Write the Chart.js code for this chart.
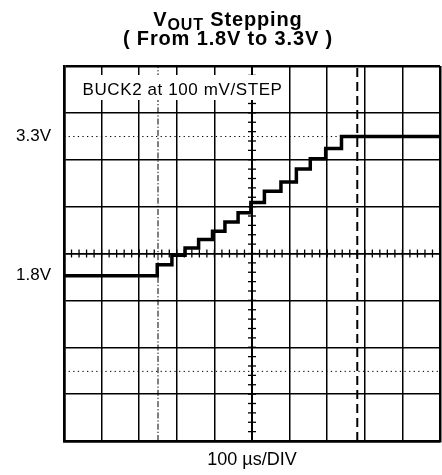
<!DOCTYPE html>
<html>
<head>
<meta charset="utf-8">
<title>VOUT Stepping</title>
<script src="https://cdn.jsdelivr.net/npm/chart.js@4.4.1/dist/chart.umd.min.js"></script>
<style>
  html, body { margin: 0; padding: 0; background: #fff; }
  #wrap { position: relative; width: 442px; height: 475px; }
  #chart { position: absolute; left: 0; top: 0; }
  #title {
    position: absolute; left: 28px; top: 10px; width: 400px;
    text-align: center; color: #000;
    font: bold 20px "Liberation Sans", Arial, sans-serif;
    line-height: 18.5px; letter-spacing: 0.85px;
  }
  #title .sub { font-size: 16px; line-height: 0; position: relative; top: 4px; }
</style>
</head>
<body>
<div id="wrap">
  <canvas id="chart" width="442" height="475"></canvas>
  <div id="title">V<span class="sub">OUT</span> Stepping<br>( From 1.8V to 3.3V )</div>
</div>
<script>
  // Time axis: 10 divisions of 100 µs
  const timeDivUs = 100;
  const timeDivs = 10;
  // Voltage axis range (8 divisions)
  const voltMin = 0.02;
  const voltMax = 4.06;
  const voltDivs = 8;

  // Staircase trace: time of each step (µs) and the level reached (V)
  const stepTimesUs = [0, 248, 287, 322, 358, 395, 428, 463, 497, 533, 577, 618, 655, 696, 738, 1000];
  const stepLevelsV = [1.80, 1.92, 2.02, 2.10, 2.19, 2.28, 2.38, 2.48, 2.59, 2.71, 2.81, 2.95, 3.06, 3.17, 3.30, 3.30];

  // Labelled levels on the left
  const levelTicksV = [1.8, 3.3];
  const levelTickLabels = ['1.8V', '3.3V'];

  // Scope cursors
  const dotCursorLevelsV = [3.3, 0.77];
  const dashDotCursorUs = 250;
  const dashCursorUs = 780;

  const noteText = 'BUCK2 at 100 mV/STEP';
  const axisText = '100 µs/DIV';
  const fontFamily = '"Liberation Sans", Arial, Helvetica, sans-serif';

  // Graticule helpers
  const timeMax = timeDivUs * timeDivs;
  const voltDiv = (voltMax - voltMin) / voltDivs;
  const divLinesV = [];
  for (let i = 0; i <= voltDivs; i++) divLinesV.push(voltMin + i * voltDiv);
  const centerV = divLinesV[voltDivs / 2];
  const centerUs = timeMax / 2;

  // Minor tick marks along the two centre lines (5 per division)
  const minorOnTimeAxis = [];
  for (let k = 1; k < timeDivs * 5; k++) minorOnTimeAxis.push({ x: k * timeDivUs / 5, y: centerV });
  const minorOnVoltAxis = [];
  for (let k = 1; k < voltDivs * 5; k++) minorOnVoltAxis.push({ x: centerUs, y: voltMin + k * voltDiv / 5 });

  const trace = stepTimesUs.map((t, i) => ({ x: t, y: stepLevelsV[i] }));

  const datasets = [];
  dotCursorLevelsV.forEach(v => {
    datasets.push({
      data: [{ x: 0, y: v }, { x: timeMax, y: v }],
      showLine: true, borderColor: '#000', borderWidth: 1,
      borderDash: [1.3, 3.3], pointRadius: 0
    });
  });
  datasets.push({
    data: [{ x: dashDotCursorUs, y: voltMin }, { x: dashDotCursorUs, y: voltMax }],
    showLine: true, borderColor: '#000', borderWidth: 1,
    borderDash: [6, 2, 1.3, 2], pointRadius: 0
  });
  datasets.push({
    data: [{ x: dashCursorUs, y: voltMin }, { x: dashCursorUs, y: voltMax }],
    showLine: true, borderColor: '#000', borderWidth: 2,
    borderDash: [9, 5], pointRadius: 0
  });
  datasets.push({
    data: minorOnTimeAxis, showLine: false,
    pointStyle: 'line', pointRotation: 90, pointRadius: 4,
    borderColor: '#000', pointBorderWidth: 1.3
  });
  datasets.push({
    data: minorOnVoltAxis, showLine: false,
    pointStyle: 'line', pointRotation: 0, pointRadius: 4,
    borderColor: '#000', pointBorderWidth: 1.3
  });
  datasets.push({
    data: trace, showLine: true, stepped: 'before',
    borderColor: '#000', borderWidth: 3.5, pointRadius: 0,
    borderJoinStyle: 'miter', borderCapStyle: 'butt'
  });

  // White-backed annotation in the top-left of the screen
  const notePlugin = {
    id: 'note',
    afterDatasetsDraw(chart) {
      const { ctx, chartArea } = chart;
      ctx.save();
      ctx.font = '17px ' + fontFamily;
      ctx.letterSpacing = '0.6px';
      const x = chartArea.left + 18.5;
      const w = ctx.measureText(noteText).width;
      ctx.fillStyle = '#fff';
      ctx.fillRect(x - 4, chartArea.top + 9, w + 6, 25);
      ctx.fillStyle = '#000';
      ctx.textBaseline = 'alphabetic';
      ctx.fillText(noteText, x, chartArea.top + 29);
      ctx.restore();
    }
  };

  new Chart(document.getElementById('chart'), {
    type: 'scatter',
    data: { datasets },
    plugins: [notePlugin],
    options: {
      responsive: false,
      animation: false,
      devicePixelRatio: 1,
      layout: { autoPadding: false, padding: { top: 66, right: 2, left: 0, bottom: 0 } },
      plugins: { legend: { display: false }, tooltip: { enabled: false } },
      scales: {
        x: {
          type: 'linear', min: 0, max: timeMax,
          ticks: { display: false, stepSize: timeDivUs },
          grid: {
            drawTicks: false, color: '#000',
            lineWidth: c => {
              if (!c.tick) return 1.5;
              const v = c.tick.value;
              if (v === 0 || v === timeMax) return 2.5;
              return v === centerUs ? 2 : 1.5;
            }
          },
          border: { display: true, color: '#000', width: 2.5 },
          title: {
            display: true, text: axisText, color: '#000',
            font: { family: fontFamily, size: 18 },
            padding: { top: 0, bottom: 4 }
          },
          afterFit: s => { s.height = 34; }
        },
        y: {
          type: 'linear', min: voltMin, max: voltMax,
          afterBuildTicks: s => {
            s.ticks = divLinesV.concat(levelTicksV).sort((a, b) => a - b).map(v => ({ value: v }));
          },
          ticks: {
            autoSkip: false, padding: 13, color: '#000',
            font: { family: fontFamily, size: 17 },
            callback: v => {
              const i = levelTicksV.indexOf(v);
              return i >= 0 ? levelTickLabels[i] : '';
            }
          },
          grid: {
            drawTicks: false,
            color: c => (c.tick && levelTicksV.includes(c.tick.value)) ? 'rgba(0,0,0,0)' : '#000',
            lineWidth: c => {
              if (!c.tick) return 1.5;
              const v = c.tick.value;
              if (v === voltMin || v === voltMax) return 2.5;
              return v === centerV ? 1.8 : 1.5;
            }
          },
          border: { display: true, color: '#000', width: 2.5 },
          afterFit: s => { s.width = 64; }
        }
      }
    }
  });
</script>
</body>
</html>
